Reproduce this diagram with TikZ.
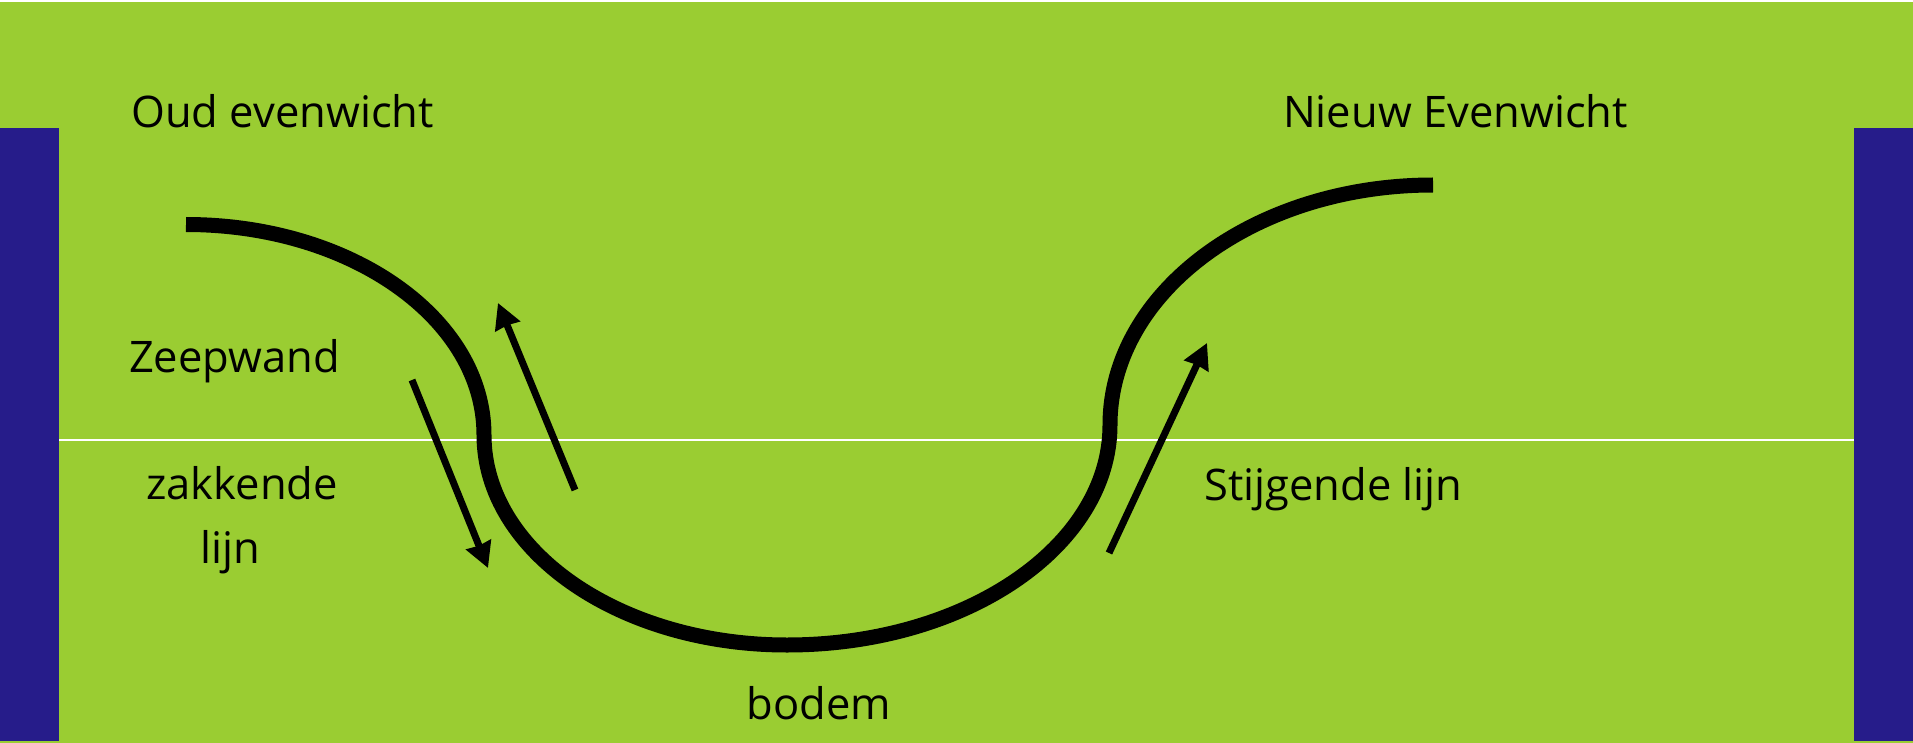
\documentclass[tikz,border=0pt]{standalone}
\usepackage{fontspec}
\setmainfont{Open Sans}
\usetikzlibrary{arrows.meta}
\definecolor{bggreen}{RGB}{154,205,50}
\definecolor{barblue}{RGB}{38,28,138}
\begin{document}
\begin{tikzpicture}[x=1pt,y=-1pt,
  lbl/.style={anchor=base, inner sep=0pt, font=\fontsize{43.5}{64}\selectfont},
  film/.style={line width=15pt, line cap=butt},
  move/.style={line width=7pt, line cap=butt, -{Stealth[length=25pt,width=26pt,inset=1pt]}}]
\useasboundingbox (0,0) rectangle (1913,743);
\fill[white] (0,0) rectangle (1913,743);
\fill[bggreen] (0,2) rectangle (1913,743);
\fill[barblue] (0,128) rectangle (59,741);
\fill[barblue] (1854,128) rectangle (1913,741);
\coordinate (ll) at (59,440);
\coordinate (lr) at (1854,440);
\draw[white, line width=2.5pt] (ll) -- (lr);

% labels
\node[lbl] (oud) at (282.5,128) {Oud evenwicht};
\node[lbl] (nieuw) at (1455.5,128) {Nieuw Evenwicht};
\node[lbl] (zeep) at (234.5,372) {Zeepwand};
\node[lbl] (zak1) at (242,499) {zakkende};
\node[lbl] (zak2) at (230,563) {lijn};
\node[lbl] (stijg) at (1333.5,500) {Stijgende lijn};
\node[lbl] (bodem) at (819,719) {bodem};

% soap film curve
\coordinate (c0) at (186,224.5);
\coordinate (c1) at (484,435);
\coordinate (c2) at (787,645);
\coordinate (c3) at (1110,425);
\coordinate (c4) at (1433,185);
\draw[film] (c0) .. controls (350.6,224.5) and (484,318.5) .. (c1)
  .. controls (484,551) and (619.7,645) .. (c2)
  .. controls (965.4,645) and (1110,546.5) .. (c3)
  .. controls (1110,292.4) and (1254.6,185) .. (c4);

% arrows
\coordinate (a1s) at (412,380);
\coordinate (a1e) at (488,568);
\coordinate (a2s) at (575,490);
\coordinate (a2e) at (498,303);
\coordinate (a3s) at (1109,553);
\coordinate (a3e) at (1207,343);
\draw[move] (a1s) -- (a1e);
\draw[move] (a2s) -- (a2e);
\draw[move] (a3s) -- (a3e);
\end{tikzpicture}
\end{document}
